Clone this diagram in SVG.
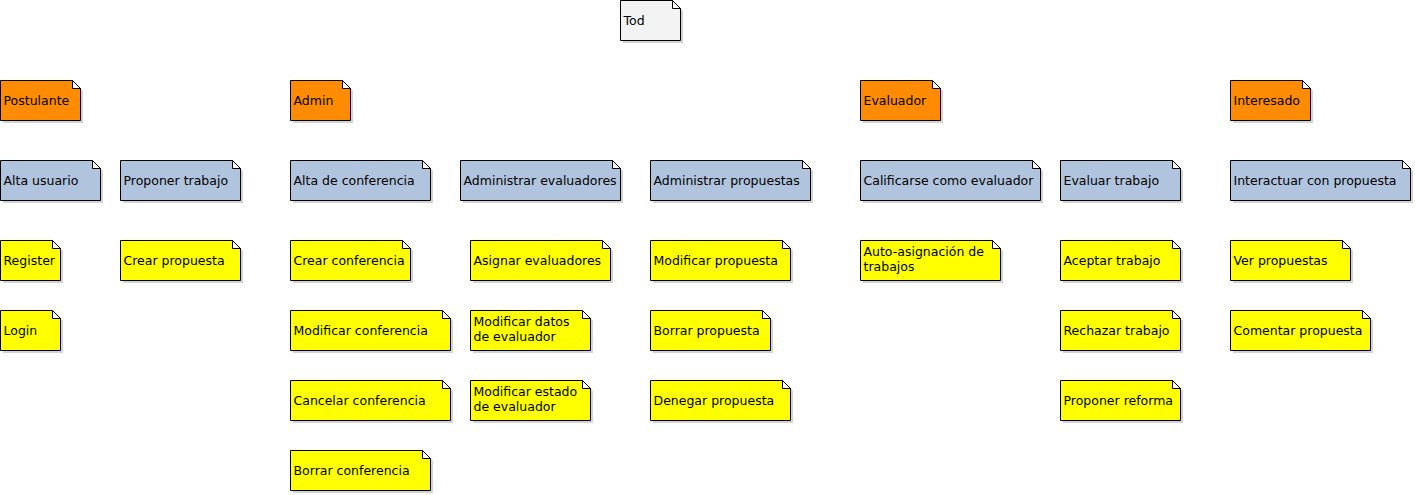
<svg xmlns="http://www.w3.org/2000/svg" xmlns:xlink="http://www.w3.org/1999/xlink" width="1415" height="495" viewBox="0 0 1415 495">
<style>
  .t { font-family: "DejaVu Sans", "Liberation Sans", sans-serif; font-size: 12.5px; fill: #000000; }
  .gray { fill: #F3F3F3; }
  .orange { fill: #FF8C00; }
  .blue { fill: #B0C4DE; }
  .yellow { fill: #FFFF00; }
</style>
<defs>
  <g id="w60">
    <path d="M3,3 H55 L63,11 V43 H3 Z" fill="#D3D3D3"/>
    <path d="M0.5,0.5 H52.5 L60.5,8.5 V40.5 H0.5 Z" stroke="#000" stroke-width="1"/>
    <path d="M52.5,0.5 V8.5 H60.5 Z" fill="#FFFFFF" stroke="#000" stroke-width="1"/>
  </g>
  <g id="w80">
    <path d="M3,3 H75 L83,11 V43 H3 Z" fill="#D3D3D3"/>
    <path d="M0.5,0.5 H72.5 L80.5,8.5 V40.5 H0.5 Z" stroke="#000" stroke-width="1"/>
    <path d="M72.5,0.5 V8.5 H80.5 Z" fill="#FFFFFF" stroke="#000" stroke-width="1"/>
  </g>
  <g id="w100">
    <path d="M3,3 H95 L103,11 V43 H3 Z" fill="#D3D3D3"/>
    <path d="M0.5,0.5 H92.5 L100.5,8.5 V40.5 H0.5 Z" stroke="#000" stroke-width="1"/>
    <path d="M92.5,0.5 V8.5 H100.5 Z" fill="#FFFFFF" stroke="#000" stroke-width="1"/>
  </g>
  <g id="w120">
    <path d="M3,3 H115 L123,11 V43 H3 Z" fill="#D3D3D3"/>
    <path d="M0.5,0.5 H112.5 L120.5,8.5 V40.5 H0.5 Z" stroke="#000" stroke-width="1"/>
    <path d="M112.5,0.5 V8.5 H120.5 Z" fill="#FFFFFF" stroke="#000" stroke-width="1"/>
  </g>
  <g id="w140">
    <path d="M3,3 H135 L143,11 V43 H3 Z" fill="#D3D3D3"/>
    <path d="M0.5,0.5 H132.5 L140.5,8.5 V40.5 H0.5 Z" stroke="#000" stroke-width="1"/>
    <path d="M132.5,0.5 V8.5 H140.5 Z" fill="#FFFFFF" stroke="#000" stroke-width="1"/>
  </g>
  <g id="w160">
    <path d="M3,3 H155 L163,11 V43 H3 Z" fill="#D3D3D3"/>
    <path d="M0.5,0.5 H152.5 L160.5,8.5 V40.5 H0.5 Z" stroke="#000" stroke-width="1"/>
    <path d="M152.5,0.5 V8.5 H160.5 Z" fill="#FFFFFF" stroke="#000" stroke-width="1"/>
  </g>
  <g id="w180">
    <path d="M3,3 H175 L183,11 V43 H3 Z" fill="#D3D3D3"/>
    <path d="M0.5,0.5 H172.5 L180.5,8.5 V40.5 H0.5 Z" stroke="#000" stroke-width="1"/>
    <path d="M172.5,0.5 V8.5 H180.5 Z" fill="#FFFFFF" stroke="#000" stroke-width="1"/>
  </g>
</defs>
<rect x="0" y="0" width="1415" height="495" fill="#FFFFFF"/>
<g id="connectors"></g>

<g id="n-tod" transform="translate(620,0)"><use href="#w60" class="gray"/><text class="t" x="3.5" y="25">Tod</text></g>

<g id="n-postulante" transform="translate(0,80)"><use href="#w80" class="orange"/><text class="t" x="3.5" y="25">Postulante</text></g>
<g id="n-admin" transform="translate(290,80)"><use href="#w60" class="orange"/><text class="t" x="3.5" y="25">Admin</text></g>
<g id="n-evaluador" transform="translate(860,80)"><use href="#w80" class="orange"/><text class="t" x="3.5" y="25">Evaluador</text></g>
<g id="n-interesado" transform="translate(1230,80)"><use href="#w80" class="orange"/><text class="t" x="3.5" y="25">Interesado</text></g>

<g id="n-alta-usuario" transform="translate(0,160)"><use href="#w100" class="blue"/><text class="t" x="3.5" y="25">Alta usuario</text></g>
<g id="n-proponer-trabajo" transform="translate(120,160)"><use href="#w120" class="blue"/><text class="t" x="3.5" y="25">Proponer trabajo</text></g>
<g id="n-alta-conferencia" transform="translate(290,160)"><use href="#w140" class="blue"/><text class="t" x="3.5" y="25">Alta de conferencia</text></g>
<g id="n-administrar-evaluadores" transform="translate(460,160)"><use href="#w160" class="blue"/><text class="t" x="3.5" y="25">Administrar evaluadores</text></g>
<g id="n-administrar-propuestas" transform="translate(650,160)"><use href="#w160" class="blue"/><text class="t" x="3.5" y="25">Administrar propuestas</text></g>
<g id="n-calificarse" transform="translate(860,160)"><use href="#w180" class="blue"/><text class="t" x="3.5" y="25">Calificarse como evaluador</text></g>
<g id="n-evaluar-trabajo" transform="translate(1060,160)"><use href="#w120" class="blue"/><text class="t" x="3.5" y="25">Evaluar trabajo</text></g>
<g id="n-interactuar" transform="translate(1230,160)"><use href="#w180" class="blue"/><text class="t" x="3.5" y="25">Interactuar con propuesta</text></g>

<g id="n-register" transform="translate(0,240)"><use href="#w60" class="yellow"/><text class="t" x="3.5" y="25">Register</text></g>
<g id="n-crear-propuesta" transform="translate(120,240)"><use href="#w120" class="yellow"/><text class="t" x="3.5" y="25">Crear propuesta</text></g>
<g id="n-crear-conferencia" transform="translate(290,240)"><use href="#w120" class="yellow"/><text class="t" x="3.5" y="25">Crear conferencia</text></g>
<g id="n-asignar-evaluadores" transform="translate(470,240)"><use href="#w140" class="yellow"/><text class="t" x="3.5" y="25">Asignar evaluadores</text></g>
<g id="n-modificar-propuesta" transform="translate(650,240)"><use href="#w140" class="yellow"/><text class="t" x="3.5" y="25">Modificar propuesta</text></g>
<g id="n-auto-asignacion" transform="translate(860,240)"><use href="#w140" class="yellow"/><text class="t" x="3.5" y="16">Auto-asignación de</text><text class="t" x="3.5" y="31">trabajos</text></g>
<g id="n-aceptar-trabajo" transform="translate(1060,240)"><use href="#w120" class="yellow"/><text class="t" x="3.5" y="25">Aceptar trabajo</text></g>
<g id="n-ver-propuestas" transform="translate(1230,240)"><use href="#w120" class="yellow"/><text class="t" x="3.5" y="25">Ver propuestas</text></g>

<g id="n-login" transform="translate(0,310)"><use href="#w60" class="yellow"/><text class="t" x="3.5" y="25">Login</text></g>
<g id="n-modificar-conferencia" transform="translate(290,310)"><use href="#w160" class="yellow"/><text class="t" x="3.5" y="25">Modificar conferencia</text></g>
<g id="n-modificar-datos" transform="translate(470,310)"><use href="#w120" class="yellow"/><text class="t" x="3.5" y="16">Modificar datos</text><text class="t" x="3.5" y="31">de evaluador</text></g>
<g id="n-borrar-propuesta" transform="translate(650,310)"><use href="#w120" class="yellow"/><text class="t" x="3.5" y="25">Borrar propuesta</text></g>
<g id="n-rechazar-trabajo" transform="translate(1060,310)"><use href="#w120" class="yellow"/><text class="t" x="3.5" y="25">Rechazar trabajo</text></g>
<g id="n-comentar-propuesta" transform="translate(1230,310)"><use href="#w140" class="yellow"/><text class="t" x="3.5" y="25">Comentar propuesta</text></g>

<g id="n-cancelar-conferencia" transform="translate(290,380)"><use href="#w160" class="yellow"/><text class="t" x="3.5" y="25">Cancelar conferencia</text></g>
<g id="n-modificar-estado" transform="translate(470,380)"><use href="#w120" class="yellow"/><text class="t" x="3.5" y="16">Modificar estado</text><text class="t" x="3.5" y="31">de evaluador</text></g>
<g id="n-denegar-propuesta" transform="translate(650,380)"><use href="#w140" class="yellow"/><text class="t" x="3.5" y="25">Denegar propuesta</text></g>
<g id="n-proponer-reforma" transform="translate(1060,380)"><use href="#w120" class="yellow"/><text class="t" x="3.5" y="25">Proponer reforma</text></g>

<g id="n-borrar-conferencia" transform="translate(290,450)"><use href="#w140" class="yellow"/><text class="t" x="3.5" y="25">Borrar conferencia</text></g>
</svg>
